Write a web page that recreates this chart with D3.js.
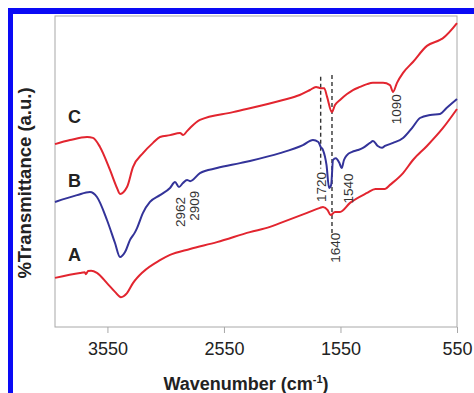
<!DOCTYPE html>
<html>
<head>
<meta charset="utf-8">
<script src="https://cdn.jsdelivr.net/npm/d3@7"></script>
<style>
  body { margin: 0; background: #fff; }
  text { font-family: "Liberation Sans", Arial, sans-serif; }
</style>
</head>
<body>
<div id="plot"></div>
<script>
// spectra: [wavenumber, transmittance (a.u.)]
var specA = [[4000,15.8],[3785,17.4],[3745,17.6],[3735,17.0],[3715,18.0],[3690,18.1],[3640,17.4],[3554,14.1],[3485,11.3],
  [3434,9.6],[3382,10.9],[3331,14.1],[3245,17.7],[3099,21.5],[3013,23.2],[2841,25.1],[2610,27.3],[2327,30.5],
  [2155,32.2],[2069,33.4],[1837,36.7],[1726,38.3],[1700,38.6],[1660,37.6],[1635,36.0],[1597,37.0],[1554,37.0],
  [1468,39.9],[1322,43.1],[1250,44.4],[1168,44.4],[1125,45.7],[1013,49.5],[928,53.7],[808,58.2],[670,64.0],[550,70.1]];

var specB = [[4000,40.2],[3811,42.4],[3700,43.4],[3640,41.8],[3554,34.4],[3485,27.0],[3442,22.5],[3399,24.1],
  [3356,28.0],[3313,30.5],[3296,31.8],[3245,36.7],[3185,40.2],[3099,42.4],[3013,44.7],[2970,46.6],[2936,45.0],
  [2902,46.3],[2867,47.3],[2841,46.9],[2756,49.5],[2610,51.1],[2412,52.7],[2327,53.4],[2069,55.9],[1872,58.5],
  [1786,60.1],[1740,59.5],[1720,57.9],[1700,56.9],[1670,52.1],[1648,44.7],[1630,45.7],[1614,53.7],[1590,54.3],
  [1560,52.8],[1540,51.1],[1520,53.7],[1494,55.3],[1450,56.3],[1400,56.9],[1357,57.6],[1297,59.2],[1271,59.8],
  [1230,58.2],[1194,57.6],[1168,58.2],[1099,59.2],[1013,60.8],[930,64.3],[868,67.2],[780,68.2],[696,68.5],
  [640,70.4],[550,73.3]];

var specC = [[4000,58.8],[3871,60.1],[3725,61.1],[3674,60.8],[3614,57.9],[3528,50.5],[3468,44.7],[3442,42.8],
  [3382,45.0],[3331,51.4],[3245,55.9],[3159,59.2],[3099,61.1],[3013,61.7],[2927,62.4],[2900,61.7],[2867,63.0],
  [2841,64.0],[2756,66.6],[2472,69.1],[2043,73.0],[1900,74.6],[1812,76.2],[1760,77.2],[1720,76.8],[1690,76.8],
  [1665,74.0],[1624,69.1],[1597,71.4],[1554,73.0],[1494,74.9],[1443,76.2],[1382,77.2],[1322,78.1],[1271,78.5],
  [1185,78.5],[1125,77.8],[1099,75.6],[1065,78.5],[1013,81.7],[928,85.2],[808,90.4],[696,92.3],[670,92.9],[550,97.7]];

var seriesNames = ["A", "B", "C"];
var seriesColors = ["#e2252f", "#333399", "#e2252f"];
var tickLabels = [3550, 2550, 1550, 550];
var dashedLines = [1720, 1640];
var peakLabels = ["2962", "2909", "1720", "1540", "1640", "1090"];

var width = 474, height = 393;
var margin = {top: 16, right: 17, bottom: 66, left: 55};
var w = width - margin.left - margin.right,
    h = height - margin.top - margin.bottom;

var svg = d3.select("#plot").append("svg")
    .attr("width", width)
    .attr("height", height);

// blue frame of the figure
svg.append("rect").attr("x", 8).attr("y", 8).attr("width", 466).attr("height", 6).attr("fill", "#0a0af5");
svg.append("rect").attr("x", 8).attr("y", 8).attr("width", 5).attr("height", 385).attr("fill", "#0a0af5");

var g = svg.append("g").attr("transform", "translate(" + margin.left + "," + margin.top + ")");

var x = d3.scaleLinear().domain([4000, 550]).range([0, w]);
var y = d3.scaleLinear().domain([0, 100]).range([h, 0]);

g.append("rect")
    .attr("width", w).attr("height", h)
    .attr("fill", "none").attr("stroke", "#a8a8a8").attr("stroke-width", 1);

var ax = g.append("g")
    .attr("transform", "translate(0," + h + ")")
    .call(d3.axisBottom(x).tickValues(tickLabels).tickFormat(d3.format("d")).tickSize(6).tickPadding(9));
ax.select(".domain").remove();
ax.selectAll(".tick line").attr("stroke", "#a8a8a8");
ax.selectAll(".tick text").attr("font-size", 18).attr("fill", "#222")
    .style("font-family", "'Liberation Sans', Arial, sans-serif");

// dashed guide lines
g.append("line")
    .attr("x1", x(dashedLines[0])).attr("x2", x(dashedLines[0]))
    .attr("y1", y(80.5)).attr("y2", y(51))
    .attr("stroke", "#333").attr("stroke-width", 1.4).attr("stroke-dasharray", "4,3");
g.append("line")
    .attr("x1", x(dashedLines[1]) + 2).attr("x2", x(dashedLines[1]) + 2)
    .attr("y1", y(81)).attr("y2", y(30))
    .attr("stroke", "#333").attr("stroke-width", 1.4).attr("stroke-dasharray", "4,3");

var line = d3.line()
    .x(function (d) { return x(d[0]); })
    .y(function (d) { return y(d[1]); })
    .curve(d3.curveMonotoneX);

[specA, specB, specC].forEach(function (s, i) {
    g.append("path")
        .datum(s)
        .attr("d", line)
        .attr("fill", "none")
        .attr("stroke", seriesColors[i])
        .attr("stroke-width", 2)
        .attr("stroke-linejoin", "round");
});

// curve letters
var letterY = [21.2, 45.0, 65.6];
seriesNames.forEach(function (n, i) {
    g.append("text")
        .attr("x", 13).attr("y", y(letterY[i]))
        .attr("font-size", 18).attr("font-weight", "bold").attr("fill", "#222")
        .text(n);
});

// rotated peak labels
var peakPos = [[2920, 37], [2800, 39], [1710, 45], [1480, 44.5], [1590, 25.5], [1065, 70]];
peakLabels.forEach(function (t, i) {
    g.append("text")
        .attr("transform", "translate(" + x(peakPos[i][0]) + "," + y(peakPos[i][1]) + ") rotate(-90)")
        .attr("text-anchor", "middle")
        .attr("dominant-baseline", "central")
        .attr("font-size", 13.5).attr("fill", "#333")
        .text(t);
});

// axis titles
var xt = svg.append("text")
    .attr("x", 246).attr("y", 390)
    .attr("text-anchor", "middle")
    .attr("font-size", 18).attr("font-weight", "bold").attr("fill", "#222");
xt.append("tspan").text("Wavenumber (cm");
xt.append("tspan").attr("font-size", 11).attr("dy", -7).text("-1");
xt.append("tspan").attr("dy", 7).text(")");

svg.append("text")
    .attr("transform", "translate(31,183) rotate(-90)")
    .attr("text-anchor", "middle")
    .attr("font-size", 18.5).attr("font-weight", "bold").attr("fill", "#222")
    .text("%Transmittance (a.u.)");
</script>
</body>
</html>
